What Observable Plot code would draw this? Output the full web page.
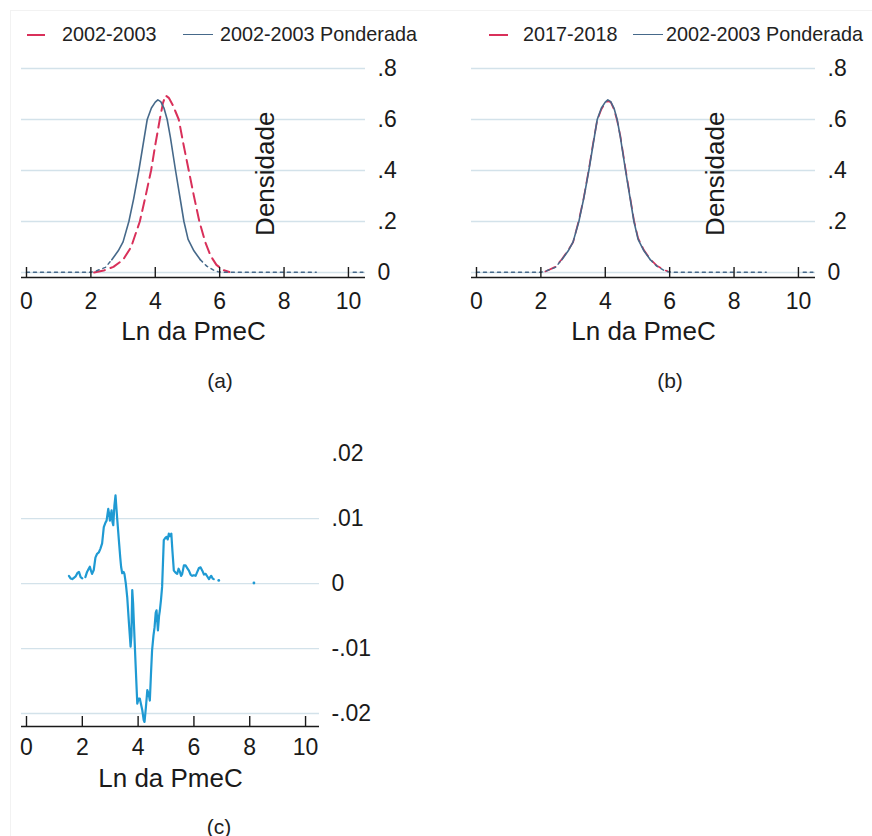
<!DOCTYPE html>
<html><head><meta charset="utf-8">
<script src="https://cdn.jsdelivr.net/npm/d3@7"></script>
<script src="https://cdn.jsdelivr.net/npm/@observablehq/plot@0.6"></script>
<style>
body{margin:0;background:#fff;font-family:"Liberation Sans",Arial,Helvetica,sans-serif;}
#fig{position:relative;width:872px;height:836px;overflow:hidden;background:#fff;}
.leg{position:absolute;font-size:19.8px;color:#222;white-space:nowrap;line-height:19.8px;}
.sw{position:absolute;height:0;}
.cap{position:absolute;font-size:21px;color:#222;line-height:21px;transform:translate(-50%,-50%);white-space:nowrap;}
.border{position:absolute;left:10px;top:10px;width:900px;height:900px;border-left:1px solid #f2f2f2;border-top:1px solid #f2f2f2;}
</style></head>
<body><div id="fig"><div class="border"></div></div>
<script>
// ---- data ----
const xTicks = [0, 2, 4, 6, 8, 10];
const densTicks = [0, 0.2, 0.4, 0.6, 0.8];
const diffTicks = [-0.02, -0.01, 0, 0.01, 0.02];
const diffGrid = [-0.02, -0.01, 0, 0.01];

// 2002-2003 Ponderada (solid core and dotted tails)
const ponderadaCore = [[2.65,0.05],[2.85,0.085],[3.0,0.12],[3.18,0.2],[3.33,0.29],[3.49,0.4],[3.62,0.5],[3.75,0.6],[3.88,0.645],[4.0,0.668],[4.08,0.677],[4.17,0.67],[4.27,0.645],[4.37,0.6],[4.47,0.53],[4.63,0.4],[4.76,0.3],[4.89,0.2],[5.02,0.13],[5.2,0.085],[5.4,0.05]];
const ponderadaTailL = [[0,0.001],[1,0.001],[2.0,0.001],[2.14,0.005],[2.45,0.02],[2.65,0.05]];
const ponderadaTailR = [[5.4,0.05],[5.6,0.025],[5.8,0.01],[5.95,0.003],[6.2,0.001],[7.5,0.001],[9.0,0.001]];
const ponderadaTailR2 = [[10.15,0.001],[10.45,0.001]];

// 2002-2003 (unweighted)
const s2002 = [[2.1,0.0],[2.4,0.008],[2.7,0.022],[3.0,0.05],[3.25,0.1],[3.52,0.2],[3.7,0.3],[3.87,0.4],[4.0,0.5],[4.14,0.6],[4.24,0.665],[4.32,0.694],[4.42,0.685],[4.55,0.655],[4.73,0.6],[4.88,0.5],[5.04,0.4],[5.2,0.3],[5.37,0.2],[5.55,0.12],[5.72,0.065],[5.9,0.03],[6.1,0.01],[6.3,0.002]];

// 2017-2018
const s2017 = [[2.14,0.004],[2.45,0.022],[2.65,0.052],[2.85,0.088],[3.0,0.118],[3.18,0.205],[3.33,0.292],[3.49,0.405],[3.62,0.505],[3.75,0.598],[3.88,0.64],[4.0,0.665],[4.08,0.672],[4.17,0.668],[4.27,0.64],[4.37,0.595],[4.47,0.535],[4.63,0.405],[4.76,0.305],[4.89,0.205],[5.02,0.135],[5.2,0.088],[5.4,0.052],[5.6,0.027],[5.8,0.012],[5.95,0.004]];

// difference (c)
const diffSeg1 = [[1.52,0.0012],[1.58,0.0008],[1.64,0.0007],[1.70,0.0009],[1.76,0.0011],[1.82,0.0016],[1.88,0.0018],[1.94,0.0010],[2.00,0.0008]];
const diffSeg2 = [[2.11,0.0010],[2.17,0.0018],[2.22,0.0022],[2.27,0.0026],[2.31,0.0020],[2.35,0.0015],[2.41,0.0021],[2.47,0.0040],[2.53,0.0046],[2.59,0.0048],[2.65,0.0054],[2.71,0.0062],[2.77,0.0087],[2.83,0.0094],[2.87,0.0097],[2.93,0.0115],[2.97,0.0105],[2.99,0.0097],[3.05,0.0113],[3.08,0.0095],[3.11,0.0090],[3.15,0.0120],[3.19,0.0136],[3.25,0.0100],[3.31,0.0067],[3.36,0.0040],[3.39,0.0026],[3.43,0.0016],[3.48,0.0018],[3.51,0.0015],[3.56,0.0000],[3.61,-0.0021],[3.67,-0.0060],[3.73,-0.0097],[3.76,-0.0080],[3.79,-0.0010],[3.82,-0.0030],[3.85,-0.0062],[3.91,-0.0125],[3.97,-0.0185],[4.02,-0.0177],[4.06,-0.0177],[4.10,-0.0185],[4.15,-0.0195],[4.20,-0.0210],[4.23,-0.0213],[4.28,-0.0190],[4.33,-0.0164],[4.38,-0.0170],[4.42,-0.0180],[4.46,-0.0140],[4.50,-0.0103],[4.55,-0.0080],[4.59,-0.0067],[4.63,-0.0045],[4.66,-0.0041],[4.69,-0.0060],[4.71,-0.0072],[4.75,-0.0050],[4.78,-0.0041],[4.82,-0.0025],[4.86,-0.0005],[4.92,0.0067],[4.97,0.0070],[5.02,0.0072],[5.06,0.0068],[5.10,0.0077],[5.14,0.0073],[5.19,0.0077],[5.23,0.0050],[5.28,0.0020],[5.34,0.0017],[5.40,0.0015],[5.45,0.0023],[5.50,0.0018],[5.54,0.0012],[5.58,0.0015],[5.64,0.0028],[5.70,0.0028],[5.76,0.0024],[5.82,0.0020],[5.88,0.0014],[5.94,0.0012],[6.00,0.0013],[6.06,0.0012],[6.12,0.0018],[6.18,0.0024],[6.24,0.0025],[6.30,0.0020],[6.36,0.0014],[6.42,0.0015],[6.48,0.0011],[6.54,0.0007],[6.58,0.0010],[6.62,0.0012],[6.67,0.0008],[6.71,0.0007]];
const diffDots = [[6.89,0.0005],[8.15,0.0001]];

// ---- styles ----
const FONT = '"Liberation Sans", Arial, Helvetica, sans-serif';
const GRID = "#d3e2ea", INK = "#1a1a1a";
const RED = "#d9305a", NAVY = "#46698a", CYAN = "#1f9ad3";
const fmt = d => d === 0 ? "0" : String(d).replace(/^(-?)0\./, "$1.");
const X = d => d[0], Y = d => d[1];
const fig = document.getElementById("fig");

function place(svg, left, top) {
  svg.style.position = "absolute";
  svg.style.left = left + "px";
  svg.style.top = top + "px";
  fig.appendChild(svg);
}

function axesMarks(frameH, yDom, yTicks, tickPad, labelDy) {
  return [
    Plot.ruleY([yDom[0]], {stroke: INK, strokeWidth: 1.6}),
    Plot.tickX(xTicks, {x: d => d, insetTop: frameH - 10, stroke: INK, strokeWidth: 1.4}),
    Plot.axisX(xTicks, {tickSize: 0, tickPadding: tickPad, fontSize: 23, fill: INK, tickFormat: d => String(d), label: null}),
    Plot.axisY(yTicks, {anchor: "right", tickSize: 0, tickPadding: 12, textAnchor: "start", fontSize: 23, fill: INK, tickFormat: fmt, label: null}),
    Plot.text(["Ln da PmeC"], {frameAnchor: "bottom", lineAnchor: "middle", textAnchor: "middle", dy: labelDy, fontSize: 26, fill: INK, text: d => d})
  ];
}

function densityPanel(left, width, mL, mR, redData, redWidth) {
  const height = 350, mT = 65.45, mB = 73, frameH = height - mT - mB;
  const yDom = [-0.0196, 0.81];
  const svg = Plot.plot({
    width, height, marginLeft: mL, marginRight: mR, marginTop: mT, marginBottom: mB,
    style: {background: "transparent", fontFamily: FONT, overflow: "visible"},
    x: {domain: [-0.155, 10.53]},
    y: {domain: yDom},
    marks: [
      Plot.gridY(densTicks, {stroke: GRID, strokeOpacity: 1, strokeWidth: 1.3}),
      Plot.line(redData, {x: X, y: Y, stroke: RED, strokeWidth: redWidth, strokeDasharray: "11,6"}),
      Plot.line(ponderadaTailL, {x: X, y: Y, stroke: NAVY, strokeWidth: 1.5, strokeDasharray: "3,4"}),
      Plot.line(ponderadaTailR, {x: X, y: Y, stroke: NAVY, strokeWidth: 1.5, strokeDasharray: "3,4"}),
      Plot.line(ponderadaTailR2, {x: X, y: Y, stroke: NAVY, strokeWidth: 1.5, strokeDasharray: "3,4"}),
      Plot.line(ponderadaCore, {x: X, y: Y, stroke: NAVY, strokeWidth: 1.6}),
      ...axesMarks(frameH, yDom, densTicks, 15, 54),
      Plot.text(["Densidade"], {frameAnchor: "right", textAnchor: "middle", lineAnchor: "middle", dx: -100, dy: 2, rotate: -90, fontSize: 26, fill: INK, text: d => d})
    ]
  });
  place(svg, left, 0);
}

densityPanel(0, 440, 21, 75, s2002, 2);
densityPanel(440, 432, 31, 57, s2017, 1.7);

// panel (c)
{
  const width = 440, height = 400, mT = 50, mB = 74, frameH = height - mT - mB;
  const yDom = [-0.022, 0.0205];
  const svg = Plot.plot({
    width, height, marginLeft: 21, marginRight: 121, marginTop: mT, marginBottom: mB,
    style: {background: "transparent", fontFamily: FONT, overflow: "visible"},
    x: {domain: [-0.179, 10.5]},
    y: {domain: yDom},
    marks: [
      Plot.gridY(diffGrid, {stroke: GRID, strokeOpacity: 1, strokeWidth: 1.3}),
      Plot.line(diffSeg1, {x: X, y: Y, stroke: CYAN, strokeWidth: 2.2}),
      Plot.line(diffSeg2, {x: X, y: Y, stroke: CYAN, strokeWidth: 2.2}),
      Plot.dot(diffDots, {x: X, y: Y, r: 1.4, fill: CYAN, stroke: null}),
      ...axesMarks(frameH, yDom, diffTicks, 12, 52)
    ]
  });
  place(svg, 0, 400);
}

// legends and captions
function swatch(x1, x2, y, color, w) {
  const d = document.createElement("div");
  d.className = "sw";
  d.style.left = x1 + "px"; d.style.width = (x2 - x1) + "px";
  d.style.top = (y - w / 2) + "px";
  d.style.borderTop = w + "px solid " + color;
  fig.appendChild(d);
}
function label(cls, text, x, y) {
  const d = document.createElement("div");
  d.className = cls; d.textContent = text;
  d.style.left = x + "px"; d.style.top = y + "px";
  fig.appendChild(d);
}
const legY = 35;
swatch(27, 45, legY, RED, 2); label("leg", "2002-2003", 62, legY - 10);
swatch(183, 213, legY, NAVY, 1.6); label("leg", "2002-2003 Ponderada", 220, legY - 10);
swatch(489, 508, legY, RED, 2); label("leg", "2017-2018", 523, legY - 10);
swatch(633, 663, legY, NAVY, 1.6); label("leg", "2002-2003 Ponderada", 666, legY - 10);
label("cap", "(a)", 220, 380);
label("cap", "(b)", 670, 380);
label("cap", "(c)", 219, 826);
</script>
</body></html>
